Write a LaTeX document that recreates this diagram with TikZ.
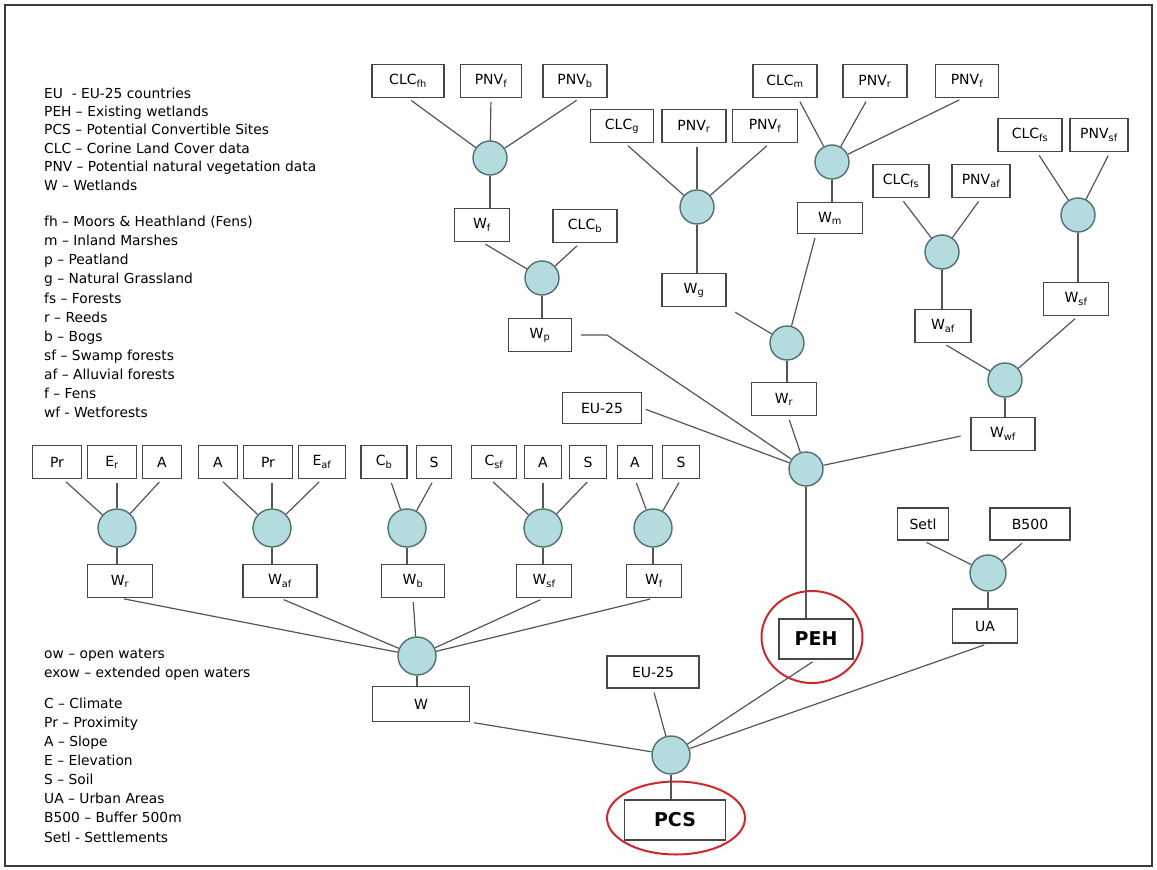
\documentclass[tikz,border=0pt]{standalone}
\usepackage{fontspec}
\setmainfont{DejaVu Sans}
\usetikzlibrary{shapes.geometric}
\definecolor{lnc}{RGB}{85,85,85}
\definecolor{bxc}{RGB}{70,70,70}
\definecolor{ccf}{RGB}{180,219,221}
\definecolor{ccb}{RGB}{80,112,116}
\definecolor{ringc}{RGB}{205,40,45}
\definecolor{framec}{RGB}{60,60,60}
\newcommand\subx[1]{\textsubscript{#1}}
\begin{document}
\begin{tikzpicture}[x=1pt,y=-1pt,
  font=\fontsize{14}{17}\selectfont,
  bx/.style={draw=bxc, line width=1.2pt, inner sep=0pt, minimum height=33pt, fill=white},
  cc/.style={circle, draw=ccb, fill=ccf, line width=1.4pt, inner sep=0pt, minimum size=34pt},
  ccl/.style={cc, minimum size=38pt},
  cn/.style={draw=lnc, line width=1.2pt},
  fd/.style={cn, shorten <=4pt},
  ring/.style={ellipse, draw=ringc, line width=2pt, inner sep=0pt},
  lg/.style={anchor=west, align=left, inner sep=0pt}]
\useasboundingbox (0,0) rectangle (1157,870);
\draw[draw=framec, line width=1.2pt] (5,5) rectangle (1152,866);

% legend
\node[lg, font=\fontsize{13.8}{18.4}\selectfont] (lg1) at (44,139) {EU\ \ - EU-25 countries\\PEH – Existing wetlands\\PCS – Potential Convertible Sites\\CLC – Corine Land Cover data\\PNV – Potential natural vegetation data\\W – Wetlands};
\node[lg, font=\fontsize{13.8}{19.1}\selectfont] (lg2) at (44,317) {fh – Moors \& Heathland (Fens)\\m – Inland Marshes\\p – Peatland\\g – Natural Grassland\\fs – Forests\\r – Reeds\\b – Bogs\\sf – Swamp forests\\af – Alluvial forests\\f – Fens\\wf - Wetforests};
\node[lg, font=\fontsize{13.8}{19}\selectfont] (lg3) at (44,665) {ow – open waters\\exow – extended open waters};
\node[lg, font=\fontsize{13.8}{19.1}\selectfont] (lg4) at (44,770) {C – Climate\\Pr – Proximity\\A – Slope\\E – Elevation\\S – Soil\\UA – Urban Areas\\B500 – Buffer 500m\\Setl - Settlements};

% red rings
\node[ring, minimum width=101pt, minimum height=92pt] (pehring) at (812,637) {};
\node[ring, minimum width=138pt, minimum height=73pt] (pcsring) at (676,818) {};

% top-left group
\node[bx, minimum width=72pt] (clcfh) at (408,81) {CLC\subx{fh}};
\node[bx, minimum width=61pt] (pnvfa) at (491,81) {PNV\subx{f}};
\node[bx, minimum width=64pt] (pnvb) at (575,81) {PNV\subx{b}};
\node[cc] (c1) at (490,158) {};
\node[bx, minimum width=55pt] (wfa) at (482,225) {W\subx{f}};
\node[bx, minimum width=64pt] (clcb) at (585,226) {CLC\subx{b}};
\node[cc] (c2) at (542,278) {};
\node[bx, minimum width=63pt] (wp) at (540,335) {W\subx{p}};

% middle group
\node[bx, minimum width=63pt] (clcg) at (622,126) {CLC\subx{g}};
\node[bx, minimum width=64pt] (pnvra) at (694,126) {PNV\subx{r}};
\node[bx, minimum width=65pt] (pnvfb) at (765,126) {PNV\subx{f}};
\node[cc] (c3) at (697,207) {};
\node[bx, minimum width=64pt] (wg) at (694,290) {W\subx{g}};
\node[bx, minimum width=64pt] (clcm) at (785,81) {CLC\subx{m}};
\node[bx, minimum width=64pt] (pnvrb) at (875,81) {PNV\subx{r}};
\node[bx, minimum width=63pt] (pnvfc) at (967,81) {PNV\subx{f}};
\node[cc] (c4) at (832,162) {};
\node[bx, minimum width=65pt, minimum height=31pt] (wm) at (830,218) {W\subx{m}};
\node[cc] (c5) at (787,343) {};
\node[bx, minimum width=65pt] (wra) at (784,399) {W\subx{r}};

% right group
\node[bx, minimum width=56pt] (clcfsa) at (901,181) {CLC\subx{fs}};
\node[bx, minimum width=58pt] (pnvaf) at (981,181) {PNV\subx{af}};
\node[bx, minimum width=64pt] (clcfsb) at (1030,135) {CLC\subx{fs}};
\node[bx, minimum width=58pt] (pnvsf) at (1099,135) {PNV\subx{sf}};
\node[cc] (c6) at (942,252) {};
\node[cc] (c7) at (1078,215) {};
\node[bx, minimum width=56pt] (wafa) at (943,326) {W\subx{af}};
\node[bx, minimum width=65pt] (wsfa) at (1076,299) {W\subx{sf}};
\node[cc] (c8) at (1005,380) {};
\node[bx, minimum width=64pt] (wwf) at (1003,434) {W\subx{wf}};

% central PEH merge
\node[bx, minimum width=79pt, minimum height=31pt] (eua) at (602,408) {EU-25};
\node[cc] (ceu) at (806,469) {};
\coordinate (bend) at (607,335);
\node[bx, minimum width=74pt, minimum height=40pt, font=\fontsize{19}{22}\selectfont\bfseries] (peh) at (816,639) {PEH};

% bottom row
\node[bx, minimum width=49pt] (pra) at (57,462) {Pr};
\node[bx, minimum width=49pt] (era) at (112,462) {E\subx{r}};
\node[bx, minimum width=39pt] (aa) at (162,462) {A};
\node[ccl] (c9) at (117,528) {};
\node[bx, minimum width=65pt] (wrb) at (120,581) {W\subx{r}};

\node[bx, minimum width=39pt] (ab) at (218,462) {A};
\node[bx, minimum width=49pt] (prb) at (268,462) {Pr};
\node[bx, minimum width=47pt] (eaf) at (322,462) {E\subx{af}};
\node[ccl] (c10) at (272,528) {};
\node[bx, minimum width=74pt] (wafb) at (280,581) {W\subx{af}};

\node[bx, minimum width=46pt] (cb) at (384,462) {C\subx{b}};
\node[bx, minimum width=35pt] (sa) at (434,462) {S};
\node[ccl] (c11) at (407,528) {};
\node[bx, minimum width=63pt] (wb) at (413,581) {W\subx{b}};

\node[bx, minimum width=45pt] (csf) at (494,462) {C\subx{sf}};
\node[bx, minimum width=37pt] (ac) at (543,462) {A};
\node[bx, minimum width=37pt] (sb) at (588,462) {S};
\node[ccl] (c12) at (543,528) {};
\node[bx, minimum width=55pt] (wsfb) at (544,581) {W\subx{sf}};

\node[bx, minimum width=35pt] (ad) at (635,462) {A};
\node[bx, minimum width=37pt] (sc) at (681,462) {S};
\node[ccl] (c13) at (653,528) {};
\node[bx, minimum width=55pt] (wfb) at (654,581) {W\subx{f}};

\node[ccl] (cw) at (417,656) {};
\node[bx, minimum width=97pt, minimum height=35pt] (w) at (421,704) {W};

% urban areas
\node[bx, minimum width=51pt, minimum height=32pt] (setl) at (923,524) {Setl};
\node[bx, minimum width=80pt, minimum height=32pt] (bfive) at (1030,524) {B500};
\node[cc, minimum size=36pt] (cua) at (988,573) {};
\node[bx, minimum width=65pt, minimum height=34pt] (ua) at (985,626) {UA};

% PCS
\node[bx, minimum width=92pt, minimum height=32pt] (eub) at (653,672) {EU-25};
\node[ccl] (cpcs) at (671,755) {};
\node[bx, minimum width=101pt, minimum height=40pt, font=\fontsize{19}{22}\selectfont\bfseries] (pcs) at (675,820) {PCS};

% connectors: top-left
\draw[fd] (clcfh.south) -- (c1);
\draw[fd] (pnvfa.south) -- (c1);
\draw[fd] ([xshift=5pt]pnvb.south) -- (c1);
\draw[cn] (c1) -- (c1 |- wfa.north);
\draw[fd] (wfa.south) -- (c2);
\draw[fd] ([xshift=-5pt]clcb.south) -- (c2);
\draw[cn] (c2) -- (c2 |- wp.north);
% middle
\draw[fd] ([xshift=3pt]clcg.south) -- (c3);
\draw[fd] ([xshift=3pt]pnvra.south) -- (c3);
\draw[fd] ([xshift=5pt]pnvfb.south) -- (c3);
\draw[cn] (c3) -- (c3 |- wg.north);
\draw[fd] ([xshift=13pt]clcm.south) -- (c4);
\draw[fd] ([xshift=-7pt]pnvrb.south) -- (c4);
\draw[fd] ([xshift=-4pt]pnvfc.south) -- (c4);
\draw[cn] (c4) -- (c4 |- wm.north);
\draw[cn, shorten <=10pt] (wg.south east) -- (c5);
\draw[fd] ([xshift=-14pt]wm.south) -- (c5);
\draw[cn] (c5) -- (c5 |- wra.north);
% right
\draw[fd] (clcfsa.south) -- (c6);
\draw[fd] (pnvaf.south) -- (c6);
\draw[fd] ([xshift=7pt]clcfsb.south) -- (c7);
\draw[fd] ([xshift=11pt]pnvsf.south) -- (c7);
\draw[cn] (c6) -- (c6 |- wafa.north);
\draw[cn] (c7) -- (c7 |- wsfa.north);
\draw[fd] (wafa.south) -- (c8);
\draw[fd] ([xshift=2pt]wsfa.south) -- (c8);
\draw[cn] (c8) -- (c8 |- wwf.north);
% PEH merge
\draw[cn, shorten <=9pt] (wp.east) -- (bend) -- (ceu);
\draw[fd] ([xshift=4pt]wra.south) -- (ceu);
\draw[fd] (eua.east) -- (ceu);
\draw[cn, shorten <=10pt] (wwf.west) -- (ceu);
\draw[cn] (ceu) -- (ceu |- peh.north);
% bottom row
\draw[fd] ([xshift=6pt]pra.south) -- (c9);
\draw[fd] ([xshift=5pt]era.south) -- (c9);
\draw[fd] (aa.south) -- (c9);
\draw[cn] (c9) -- (c9 |- wrb.north);
\draw[fd] ([xshift=2pt]ab.south) -- (c10);
\draw[fd] ([xshift=4pt]prb.south) -- (c10);
\draw[fd] (eaf.south) -- (c10);
\draw[cn] (c10) -- (c10 |- wafb.north);
\draw[fd] ([xshift=6pt]cb.south) -- (c11);
\draw[fd] (sa.south) -- (c11);
\draw[cn] (c11) -- (c11 |- wb.north);
\draw[fd] ([xshift=-4pt]csf.south) -- (c12);
\draw[fd] (ac.south) -- (c12);
\draw[fd] ([xshift=2pt]sb.south) -- (c12);
\draw[cn] (c12) -- (c12 |- wsfb.north);
\draw[fd] (ad.south) -- (c13);
\draw[fd] (sc.south) -- (c13);
\draw[cn] (c13) -- (c13 |- wfb.north);
\draw[fd] (wrb.south) -- (cw);
\draw[fd] (wafb.south) -- (cw);
\draw[fd] (wb.south) -- (cw);
\draw[fd] (wsfb.south) -- (cw);
\draw[fd] (wfb.south) -- (cw);
\draw[cn] (cw) -- (cw |- w.north);
% urban
\draw[fd] (setl.south) -- (cua);
\draw[fd] ([xshift=-5pt]bfive.south) -- (cua);
\draw[cn] (cua) -- (cua |- ua.north);
% PCS
\draw[fd] (w.south east) -- (cpcs);
\draw[fd] (eub.south) -- (cpcs);
\draw[fd] (peh.south) -- (cpcs);
\draw[fd] ([xshift=3pt]ua.south) -- (cpcs);
\draw[cn] (cpcs) -- (cpcs |- pcs.north);
\end{tikzpicture}
\end{document}
